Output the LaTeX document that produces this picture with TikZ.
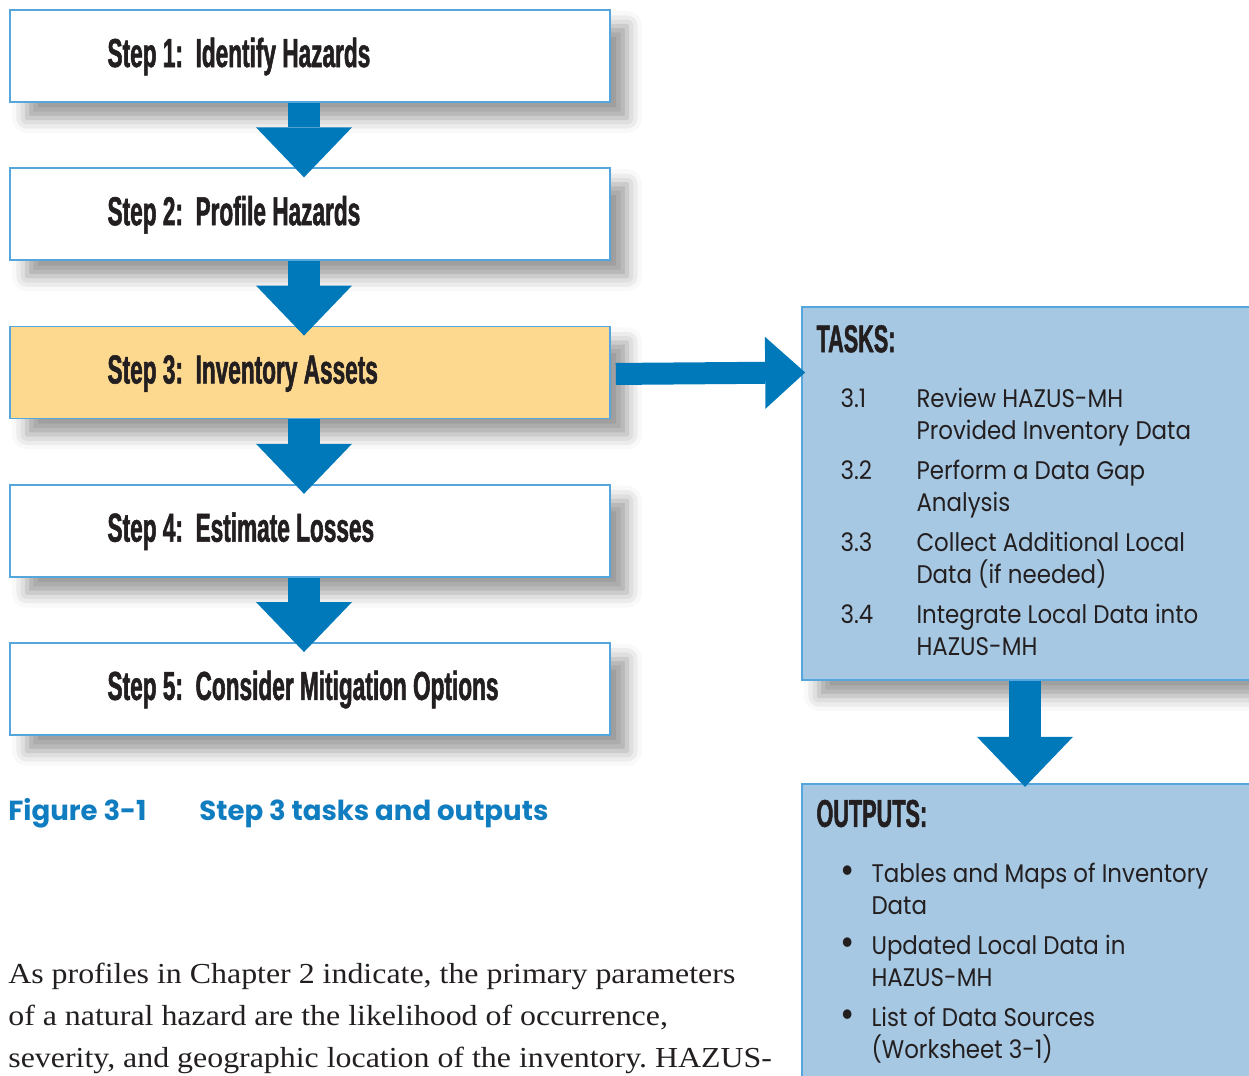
\documentclass[tikz,border=0pt]{standalone}
\usepackage{fontspec}
\usetikzlibrary{positioning,calc,arrows.meta,shadows.blur}
\newfontfamily\stepfont[FakeStretch=0.56,FakeBold=1.3]{Liberation Sans}
\newfontfamily\taskfont[FakeStretch=0.9]{Poppins}
\newfontfamily\capfont{Poppins}
\newfontfamily\parafont[FakeStretch=1.1]{Liberation Serif}
\definecolor{flowblue}{RGB}{0,121,186}
\definecolor{edgeblue}{RGB}{84,166,220}
\definecolor{taskfill}{RGB}{166,200,227}
\definecolor{stepfill}{RGB}{253,217,144}
\definecolor{capblue}{RGB}{16,125,192}
\definecolor{ink}{RGB}{35,31,32}
\frenchspacing

\begin{document}
\begin{tikzpicture}[x=0.02cm,y=-0.02cm,
  stepbox/.style={draw=edgeblue,line width=1pt,fill=white,inner sep=0pt,
    minimum width=12cm,minimum height=1.84cm,
    blur shadow={shadow xshift=0.34cm,shadow yshift=-0.32cm,
      shadow blur radius=0.3cm,shadow opacity=40}},
  panel/.style={stepbox,fill=taskfill,minimum width=9.16cm},
  steplbl/.style={font=\stepfont\bfseries\fontsize{23}{26}\selectfont,
    text=ink,inner sep=0pt,anchor=base west},
  head/.style={steplbl,font=\stepfont\bfseries\fontsize{22}{26}\selectfont},
  task/.style={font=\taskfont\fontsize{14.5}{18}\selectfont,text=ink,
    inner sep=0pt,anchor=base west},
  dot/.style={task,font=\taskfont\fontsize{22}{22}\selectfont},
  caption/.style={font=\capfont\bfseries\fontsize{15.7}{20}\selectfont,
    text=capblue,inner sep=0pt,anchor=base west},
  para/.style={font=\parafont\fontsize{16.5}{24}\selectfont,text=ink,
    inner sep=0pt,anchor=base west},
  flowdown/.style={draw=flowblue,line width=0.64cm,
    -{Triangle[width=1.92cm,length=1cm,line width=0pt]}},
  flowright/.style={draw=flowblue,line width=0.44cm,
    -{Triangle[width=1.44cm,length=0.8cm,line width=0pt]}}]
  \useasboundingbox (0,0) rectangle (1249,1076);
  % ---------- the five steps ----------
  \node[stepbox] (s1) at (310,56) {};
  \node[stepbox,below=1.29cm of s1] (s2) {};
  \node[stepbox,below=1.29cm of s2,fill=stepfill] (s3) {};
  \node[stepbox,below=1.29cm of s3] (s4) {};
  \node[stepbox,below=1.29cm of s4] (s5) {};
  \node[steplbl] (l1) at ($(s1.west)+(98,11)$) {Step 1:\ \ Identify Hazards};
  \node[steplbl] (l2) at ($(s2.west)+(98,11)$) {Step 2:\ \ Profile Hazards};
  \node[steplbl] (l3) at ($(s3.west)+(98,11)$) {Step 3:\ \ Inventory Assets};
  \node[steplbl] (l4) at ($(s4.west)+(98,11)$) {Step 4:\ \ Estimate Losses};
  \node[steplbl] (l5) at ($(s5.west)+(98,11)$) {Step 5:\ \ Consider Mitigation Options};
  % ---------- tasks and outputs ----------
  \node[panel,minimum height=7.46cm] (tasks) at (1031,493.5) {};
  \node[panel,below=2.04cm of tasks,minimum height=6.6cm] (outs) {};
  \node[head] (th) at ($(tasks.north west)+(15,46)$) {TASKS:};
  \node[head] (oh) at ($(outs.north west)+(15,44)$) {OUTPUTS:};
  \foreach \num/\first/\second [count=\i] in
    {3.1/Review HAZUS-MH/Provided Inventory Data,
     3.2/Perform a Data Gap/Analysis,
     3.3/Collect Additional Local/Data (if needed),
     3.4/Integrate Local Data into/HAZUS-MH}{
    \node[task] (n\i) at ($(tasks.north west)+(39,29+72*\i)$) {\num};
    \node[task] (ta\i) at ($(tasks.north west)+(115,29+72*\i)$) {\first};
    \node[task] (tb\i) at ($(ta\i.base west)+(0,32)$) {\second};
  }
  \foreach \first/\second [count=\i] in
    {Tables and Maps of Inventory/Data,
     Updated Local Data in/HAZUS-MH,
     List of Data Sources/(Worksheet 3-1)}{
    \node[dot] (b\i) at ($(outs.north west)+(39,29+72*\i)$) {\textbullet};
    \node[task] (oa\i) at ($(outs.north west)+(70,28+72*\i)$) {\first};
    \node[task] (ob\i) at ($(oa\i.base west)+(0,32)$) {\second};
  }
  % ---------- arrows ----------
  \draw[flowdown] ([xshift=-0.12cm]s1.south) -- ([xshift=-0.12cm,yshift=-0.2cm]s2.north);
  \draw[flowdown] ([xshift=-0.12cm]s2.south) -- ([xshift=-0.12cm,yshift=-0.2cm]s3.north);
  \draw[flowdown] ([xshift=-0.12cm]s3.south) -- ([xshift=-0.12cm,yshift=-0.2cm]s4.north);
  \draw[flowdown] ([xshift=-0.12cm]s4.south) -- ([xshift=-0.12cm,yshift=-0.2cm]s5.north);
  \draw[flowdown] ([xshift=-0.12cm]tasks.south) -- ([xshift=-0.12cm,yshift=-0.08cm]outs.north);
  \draw[flowright] ([xshift=0.1cm,yshift=-0.03cm]s3.east) -- ([xshift=0.08cm]s3.east -| tasks.west);
  % ---------- caption and text ----------
  \node[caption] (fig) at (8,820) {Figure 3-1};
  \node[caption] (title) at (199,820) {Step 3 tasks and outputs};
  \node[para] (p1) at (8,983) {As profiles in Chapter 2 indicate, the primary parameters};
  \node[para] (p2) at ($(p1.base west)+(0,42)$) {of a natural hazard are the likelihood of occurrence,};
  \node[para] (p3) at ($(p2.base west)+(0,42)$) {severity, and geographic location of the inventory. HAZUS-};
\end{tikzpicture}
\end{document}
